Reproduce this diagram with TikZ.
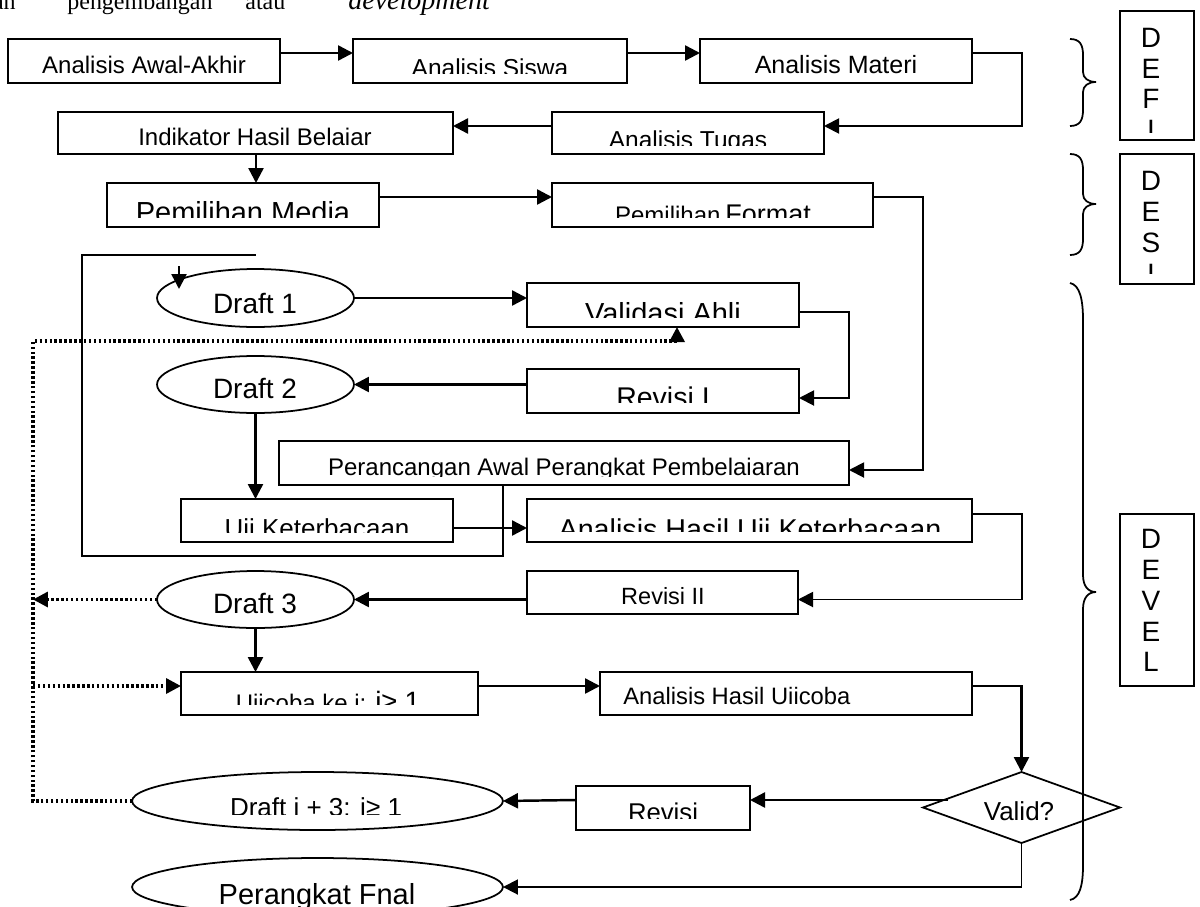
\documentclass[tikz,border=0pt]{standalone}
\usepackage{fontspec}
\setmainfont{Liberation Sans}
\newfontfamily\serifhead{Liberation Serif}
\usetikzlibrary{arrows.meta,shapes.geometric,fit}
\newcommand\fs[1]{\fontsize{\fpeval{(#1)*0.569}pt}{\fpeval{(#1)*0.683}pt}\selectfont}
% name, x1, y1, x2, y2, clip y, text x, baseline, text
\newcommand\tb[9]{%
  \node[box, fit={(#2,#3) (#4,#5)}] (#1) {};
  \begin{scope}\clip (#2,#3) rectangle (#4,#6);
    \node[txt] at (#7,#8) {#9};
  \end{scope}}
\begin{document}
\begin{tikzpicture}[x=0.02cm,y=-0.02cm,
  box/.style={draw, rectangle, line width=1pt, inner sep=0pt, outer sep=0pt},
  ell/.style={draw, ellipse, line width=1pt, inner sep=0pt, outer sep=0pt},
  txt/.style={anchor=base, inner sep=0pt},
  tip/.style={-{Triangle[length=0.3cm,width=0.3cm]}},
  arr/.style={line width=1.4pt, tip},
  con/.style={line width=1.1pt, tip},
  ln/.style={line width=1.1pt},
  dot/.style={line width=1.9pt, dash pattern=on 1.4pt off 1.4pt},
  brace/.style={line width=1pt}]
\clip (0,0) rectangle (1200,906);
\useasboundingbox (0,0) rectangle (1200,906);

% header (cut off at the top)
\node[anchor=base east, inner sep=0pt, font=\serifhead\fs{24}] at (16,10) {an};
\node[anchor=base west, inner sep=0pt, font=\serifhead\fs{24}] at (67,10) {pengembangan};
\node[anchor=base west, inner sep=0pt, font=\serifhead\fs{24}] at (245,10) {atau};
\node[anchor=base west, inner sep=0pt, font=\serifhead\itshape\fs{28}] at (348,10) {development};

% boxes
\tb{awal}{8}{39}{280}{83}{74}{144}{73}{\fs{24}Analisis Awal-Akhir}
\tb{siswa}{353}{39}{627}{83}{73}{490}{76}{\fs{24.5}Analisis Siswa}
\tb{materi}{700}{39}{972}{83}{74}{836}{73}{\fs{25}Analisis Materi}
\tb{indikator}{58}{112}{453}{154}{146}{255}{145}{\fs{24}Indikator Hasil Belaiar}
\tb{tugas}{552}{112}{824}{154}{145}{688}{148}{\fs{24.5}Analisis Tugas}
\tb{media}{107}{183}{379}{227}{217}{243}{222}{\fs{29}Pemilihan Media}
\tb{format}{552}{183}{873}{227}{217}{713}{223}{{\fs{24}Pemilihan} {\fs{27}Format}}
\tb{validasi}{527}{283}{799}{327}{317}{663}{323}{\fs{29}Validasi Ahli}
\tb{revisi1}{527}{369}{799}{413}{402}{663}{407}{\fs{28.5}Revisi I}
\tb{rancang}{279}{441}{849}{485}{476}{564}{475}{\fs{24}Perancangan Awal Perangkat Pembelaiaran}
\tb{uji}{181}{499}{453}{542}{532}{317}{537}{\fs{26}Uii Keterbacaan}
\tb{hasiluji}{527}{499}{972}{542}{531}{750}{539}{\fs{28.7}Analisis Hasil Uii Keterbacaan}
\tb{revisi2}{527}{571}{798}{614}{605}{663}{604}{\fs{23.5}Revisi II}
\tb{ujicoba}{181}{672}{478}{715}{704}{328}{711}{{\fs{24}Uiicoba ke i: }{\fs{28}i≥ 1}}
\node[box, fit={(600,672) (972,715)}] (hasil2) {};
\node[anchor=base west, inner sep=0pt] at (623,704) {\fs{23.75}Analisis Hasil Uiicoba};
\tb{revisi}{576}{786}{750}{830}{818}{663}{821}{\fs{25.7}Revisi}

% ellipses
\node[ell, minimum width=3.94cm, minimum height=1.16cm] (d1) at (255.5,298) {};
\node[txt] at (255,313) {\fs{28}Draft 1};
\node[ell, minimum width=3.94cm, minimum height=1.14cm] (d2) at (255.5,384.5) {};
\node[txt] at (255,398) {\fs{28}Draft 2};
\node[ell, minimum width=3.94cm, minimum height=1.14cm] (d3) at (255.5,599.5) {};
\node[txt] at (255,613) {\fs{28}Draft 3};
\node[ell, minimum width=7.42cm, minimum height=1.16cm] (di3) at (317.5,801) {};
\begin{scope}\clip (100,760) rectangle (540,814);
  \node[txt] at (316,816) {\fs{26}Draft i + 3: i≥ 1};
\end{scope}
\node[ell, minimum width=7.42cm, minimum height=1.16cm] (final) at (317.5,887) {};
\node[txt] at (317,904) {\fs{29}Perangkat Fnal};

% decision
\node[draw, diamond, line width=1pt, inner sep=0pt, outer sep=0pt,
      minimum width=3.94cm, minimum height=1.42cm] (valid) at (1021.5,807.5) {};
\node[txt] at (1019,820) {\fs{26}Valid?};

% phase boxes
\node[box, fit={(1120,11) (1194,140)}] (defi) {};
\begin{scope}\clip (1120,11) rectangle (1194,132);
  \foreach \l/\y in {D/47,E/78,F/108,I/139} \node[txt] at (1151,\y) {\fs{28}\l};
\end{scope}
\node[box, fit={(1120,154) (1194,284)}] (desi) {};
\begin{scope}\clip (1120,154) rectangle (1194,273);
  \foreach \l/\y in {D/190,E/221,S/252,I/283} \node[txt] at (1151,\y) {\fs{28}\l};
\end{scope}
\node[box, fit={(1120,514) (1194,686)}] (devel) {};
\foreach \l/\y in {D/548,E/579,V/610,E/641,L/671} \node[txt] at (1151,\y) {\fs{28}\l};

% braces
\draw[brace] (1070,39) .. controls (1080,39) and (1083,45) .. (1083,55) -- (1083,72)
  .. controls (1083,78) and (1088,82) .. (1096,82)
  .. controls (1088,82) and (1083,86) .. (1083,92) -- (1083,110)
  .. controls (1083,120) and (1080,126) .. (1070,126);
\draw[brace] (1070,154) .. controls (1080,154) and (1083,160) .. (1083,170) -- (1083,194)
  .. controls (1083,200) and (1088,204) .. (1096,204)
  .. controls (1088,204) and (1083,208) .. (1083,214) -- (1083,239)
  .. controls (1083,249) and (1080,255) .. (1070,255);
\draw[brace] (1070,283) .. controls (1080,285) and (1083,300) .. (1083,320) -- (1083,575)
  .. controls (1083,586) and (1088,592) .. (1096,592)
  .. controls (1088,592) and (1083,598) .. (1083,609) -- (1083,865)
  .. controls (1083,885) and (1080,898) .. (1070,900);

% helper levels
\coordinate (ya) at (0,53);
\coordinate (yb) at (0,126);
\coordinate (xm) at (256,0);
\coordinate (yc) at (0,197);
\coordinate (yv) at (0,312);
\coordinate (yr) at (0,398);
\coordinate (yp) at (0,470);
\coordinate (yu) at (0,528);
\coordinate (yh) at (0,514);
\coordinate (yj) at (0,686);
\coordinate (yd) at (0,800);
\coordinate (xl) at (33,0);
\coordinate (xr) at (503,0);
\coordinate (xv) at (677,0);
\coordinate (loopend) at (256,255);
\coordinate (loopcorner) at (82,556);
\coordinate (smalltop) at (179,266);
\coordinate (smalltip) at (179,289);
\coordinate (vleft) at (948,800);
\coordinate (dtop) at (33,341);

% connectors
\draw[arr] (awal.east |- ya) -- (siswa.west |- ya);
\draw[arr] (siswa.east |- ya) -- (materi.west |- ya);
\draw[con] (materi.east |- ya) -| (1022,126) -- (tugas.east |- yb);
\draw[arr] (tugas.west |- yb) -- (indikator.east |- yb);
\draw[arr] (indikator.south -| xm) -- (media.north -| xm);
\draw[arr] (media.east |- yc) -- (format.west |- yc);
\draw[con] (format.east |- yc) -| (923,470) -- (rancang.east |- yp);
\draw[ln] (rancang.south -| xr) |- (loopcorner) |- (loopend);
\draw[arr] (smalltop) -- (smalltip);
\draw[arr] (d1.east) -- (validasi.west |- d1.east);
\draw[con] (validasi.east |- yv) -| (849,398) -- (revisi1.east |- yr);
\draw[arr] (revisi1.west |- d2.east) -- (d2.east);
\draw[arr] (d2.south) -- (uji.north -| d2.south);
\draw[arr] (uji.east |- yu) -- (hasiluji.west |- yu);
\draw[con] (hasiluji.east |- yh) -| (1022,599.5) -- (revisi2.east |- d3.east);
\draw[arr] (revisi2.west |- d3.east) -- (d3.east);
\draw[arr] (d3.south) -- (ujicoba.north -| d3.south);
\draw[arr] (ujicoba.east |- yj) -- (hasil2.west |- yj);
\draw[arr] (hasil2.east |- yj) -| (valid.north);
\draw[arr] (vleft) -- (revisi.east |- yd);
\draw[arr] (revisi.west |- yd) -- (di3.east);
\draw[con] (valid.south) |- (final.east);

% dotted feedback
\draw[dot, tip] (di3.west) -| (dtop) -| (validasi.south -| xv);
\draw[dot, tip] (d3.west) -- (d3.west -| xl);
\draw[dot, tip] (xl |- yj) -- (ujicoba.west |- yj);
\end{tikzpicture}
\end{document}
